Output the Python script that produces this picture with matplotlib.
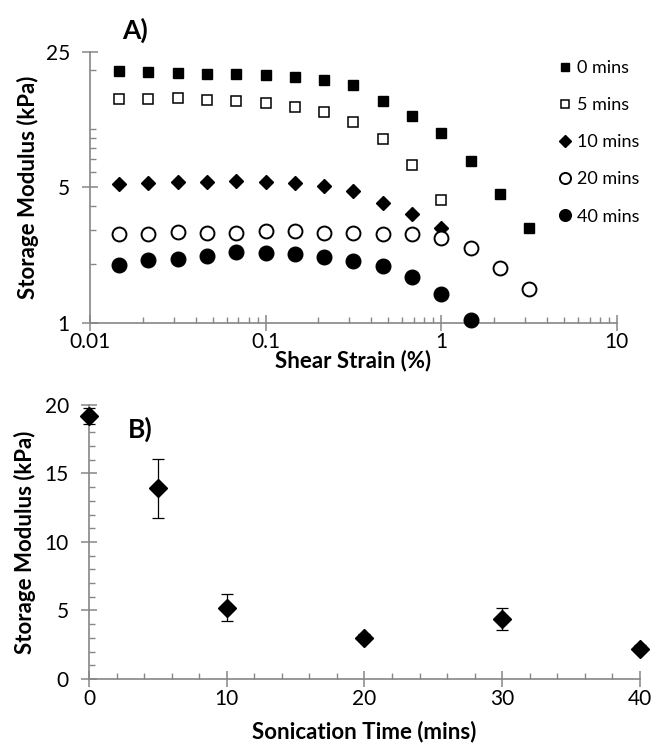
import matplotlib
matplotlib.use('Agg')
import matplotlib.pyplot as plt
from matplotlib.ticker import FixedLocator, NullFormatter

plt.rcParams['font.family'] = ['Lato', 'DejaVu Sans']

# ---- data, panel A (storage modulus vs strain) ----
strain = [0.0147, 0.0215, 0.0316, 0.0464, 0.0681, 0.1, 0.147, 0.215,
          0.316, 0.464, 0.681, 1.0, 1.47, 2.15, 3.16]
g_0 = [19.8, 19.6, 19.4, 19.2, 19.2, 18.9, 18.4, 17.8, 16.9, 13.95, 11.7,
       9.5, 6.8, 4.6, 3.06]
g_5 = [14.2, 14.2, 14.4, 14.1, 13.9, 13.5, 12.9, 12.2, 10.8, 8.9, 6.5, 4.3]
g_10 = [5.17, 5.23, 5.29, 5.29, 5.35, 5.29, 5.23, 5.06, 4.77, 4.15, 3.63, 3.08]
g_20 = [2.88, 2.88, 2.95, 2.90, 2.91, 2.96, 2.96, 2.91, 2.91, 2.88, 2.85,
        2.73, 2.44, 1.91, 1.49]
g_40 = [1.99, 2.11, 2.14, 2.20, 2.31, 2.30, 2.25, 2.17, 2.09, 1.96, 1.73,
        1.40, 1.03]
series_labels = ['0 mins', '5 mins', '10 mins', '20 mins', '40 mins']

# ---- data, panel B (modulus vs sonication time) ----
son_time = [0, 5, 10, 20, 30, 40]
son_mod = [19.2, 13.9, 5.2, 3.0, 4.4, 2.2]
son_err = [0.6, 2.15, 1.0, 0.25, 0.8, 0.25]

grey = '#868686'
lab_size = 16
fig = plt.figure(figsize=(6.52, 7.47), dpi=100)

# ---------------- panel A ----------------
ax1 = fig.add_axes([0.138, 0.568, 0.808, 0.363])
series = [g_0, g_5, g_10, g_20, g_40]
styles = [dict(marker='s', ms=7.5, mfc='black', mec='black'),
          dict(marker='s', ms=7.5, mfc='white', mec='black', mew=1.1),
          dict(marker='D', ms=7.5, mfc='black', mec='black'),
          dict(marker='o', ms=10, mfc='white', mec='black', mew=1.4),
          dict(marker='o', ms=10.5, mfc='black', mec='black')]
for vals, st, lab in zip(series, styles, series_labels):
    ax1.plot(strain[:len(vals)], vals, ls='none', label=lab, clip_on=False,
             zorder=3, **st)

ax1.set_xscale('log')
ax1.set_yscale('log')
ax1.set_xlim(0.01, 10)
ax1.set_ylim(1, 25)
ax1.yaxis.set_major_locator(FixedLocator([1, 5, 25]))
ax1.yaxis.set_minor_locator(FixedLocator([2, 3, 4, 6, 7, 8, 9, 10, 20]))
ax1.yaxis.set_minor_formatter(NullFormatter())
ax1.set_yticklabels(['1', '5', '25'])
ax1.xaxis.set_major_locator(FixedLocator([0.01, 0.1, 1, 10]))
ax1.set_xticklabels(['0.01', '0.1', '1', '10'])
ax1.xaxis.set_minor_formatter(NullFormatter())

leg = ax1.legend(loc='upper left', bbox_to_anchor=(0.868, 0.995), frameon=False,
                 fontsize=13, handletextpad=0.05, labelspacing=1.17,
                 handlelength=1.2, markerscale=0.8, borderaxespad=0)

ax1.set_xlabel('Shear Strain (%)', fontsize=lab_size, fontweight='bold', va='center')
ax1.xaxis.set_label_coords(0.5, -0.14)
ax1.set_ylabel('Storage Modulus (kPa)', fontsize=lab_size, fontweight='bold', va='center')
ax1.yaxis.set_label_coords(-0.118, 0.5)
ax1.text(0.062, 1.08, 'A)', transform=ax1.transAxes, fontsize=19,
         fontweight='bold', va='center', ha='left')

# ---------------- panel B ----------------
ax2 = fig.add_axes([0.1365, 0.091, 0.845, 0.367])
ax2.errorbar(son_time, son_mod, yerr=son_err, fmt='D', color='black', ms=9,
             ecolor='black', elinewidth=0.9, capsize=4, capthick=0.9,
             clip_on=False, zorder=3)
ax2.set_xlim(0, 40)
ax2.set_ylim(0, 20)
ax2.set_xticks([0, 10, 20, 30, 40])
ax2.set_xticks(list(range(0, 41, 2)), minor=True)
ax2.set_yticks([0, 5, 10, 15, 20])
ax2.set_yticks(list(range(0, 21, 1)), minor=True)
ax2.set_xlabel('Sonication Time (mins)', fontsize=lab_size, fontweight='bold', va='center')
ax2.xaxis.set_label_coords(0.5, -0.19)
ax2.set_ylabel('Storage Modulus (kPa)', fontsize=lab_size, fontweight='bold', va='center')
ax2.yaxis.set_label_coords(-0.117, 0.5)
ax2.text(0.07, 0.91, 'B)', transform=ax2.transAxes, fontsize=19,
         fontweight='bold', va='center', ha='left')

for ax in (ax1, ax2):
    for side in ('top', 'right'):
        ax.spines[side].set_visible(False)
    for side in ('left', 'bottom'):
        ax.spines[side].set_color(grey)
        ax.spines[side].set_linewidth(1.2)
    ax.tick_params(which='major', direction='inout', length=11, width=1.1,
                   color=grey, labelsize=15)
    ax.tick_params(which='minor', direction='in', length=4.5, width=1.0,
                   color=grey)
    ax.tick_params(axis='x', which='major', pad=1.5)
    ax.tick_params(axis='y', which='major', pad=9)

plt.savefig('out.png', dpi=100)
plt.close()
